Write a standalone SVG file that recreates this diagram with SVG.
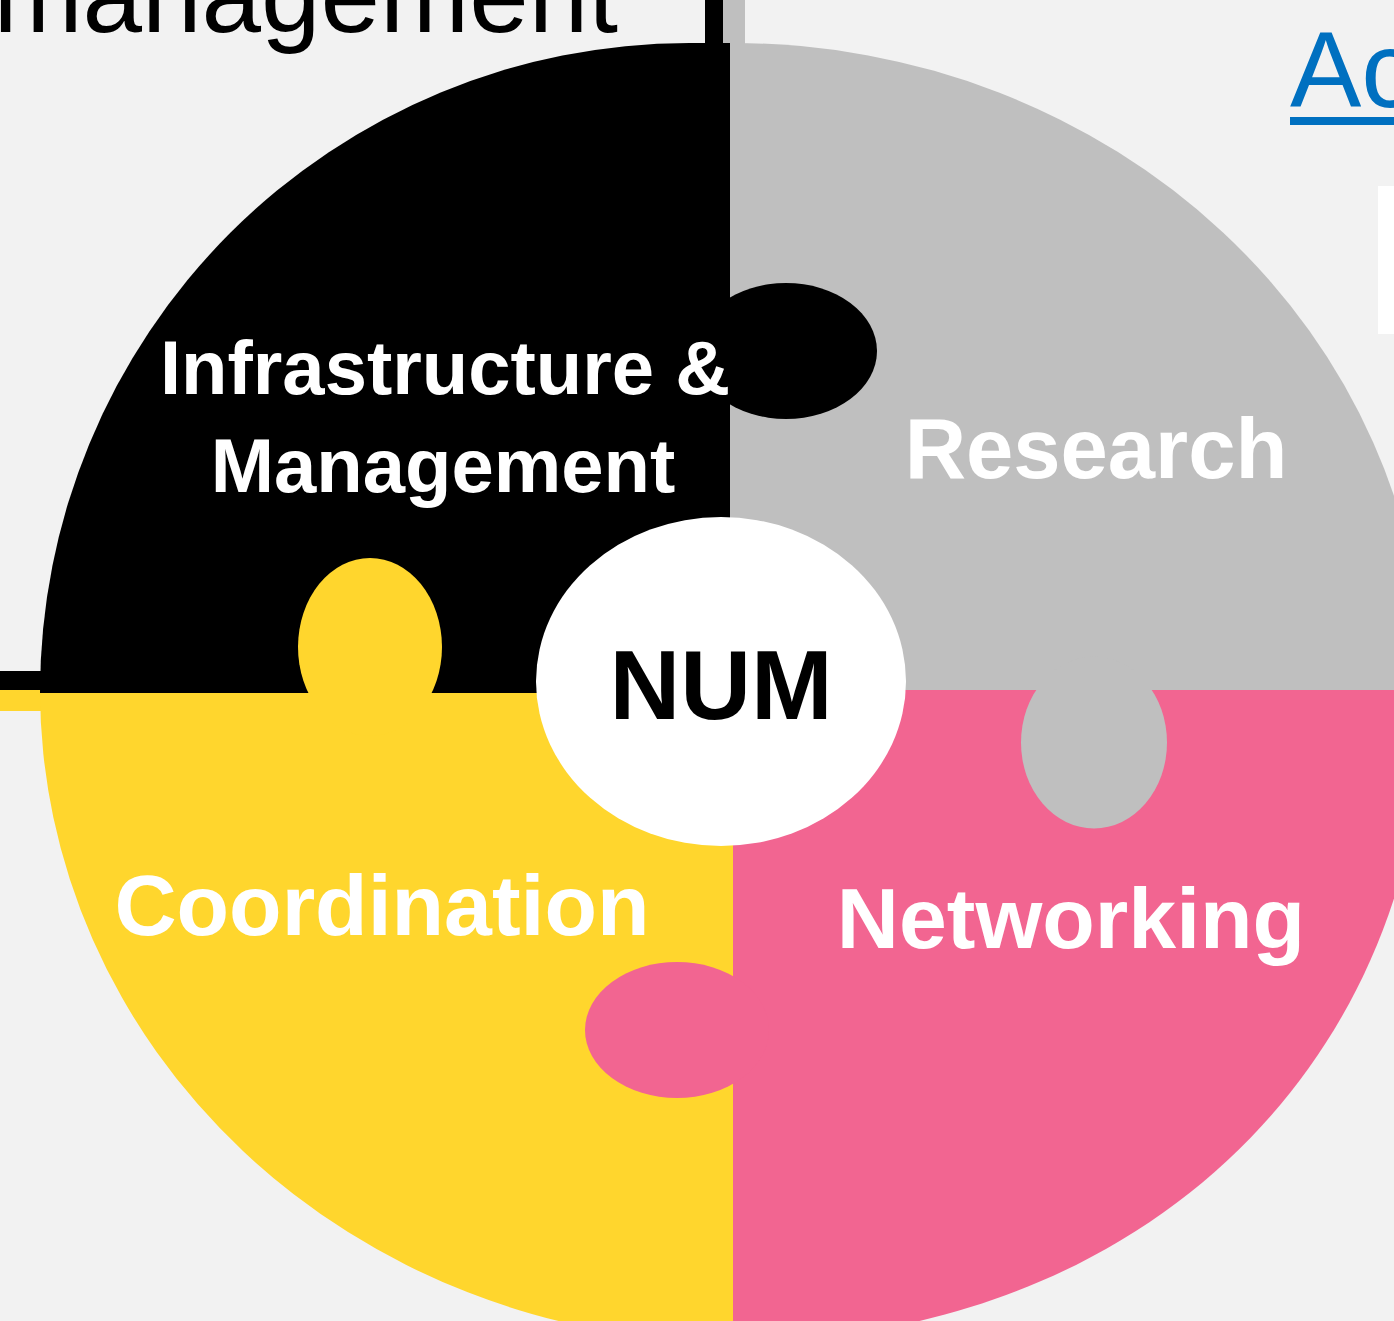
<svg xmlns="http://www.w3.org/2000/svg" width="1394" height="1321" viewBox="0 0 1394 1321">
  <style>
    .lbl { font-family: "Liberation Sans", Arial, sans-serif; font-weight: bold; fill: #FFFFFF; text-anchor: middle; }
    .bk { fill: #000000; }
    .gy { fill: #BFBFBF; }
    .yl { fill: #FFD62D; }
    .pk { fill: #F26591; }
  </style>
  <rect x="0" y="0" width="1394" height="1321" fill="#F2F2F2"/>

  <text x="618" y="32" font-family="Liberation Sans, Arial, sans-serif" font-size="107" text-anchor="end" fill="#000000">management</text>

  <g id="link-ac">
    <text x="1290" y="107" font-family="Liberation Sans, Arial, sans-serif" font-size="107" fill="#0070C0">Ac</text>
    <rect x="1290" y="117" width="104" height="8" fill="#0070C0"/>
  </g>
  <rect id="side-box" x="1378" y="186" width="16" height="148" fill="#FFFFFF"/>

  <g id="connectors">
    <rect class="bk" x="705" y="0" width="18" height="44"/>
    <rect class="gy" x="723" y="0" width="22" height="44"/>
    <rect class="bk" x="0" y="671" width="42" height="19"/>
    <rect class="yl" x="0" y="690" width="42" height="21"/>
  </g>

  <g id="research">
    <path class="gy" d="M730,690 L1426,690 A693 647 0 0 0 733,43 L730,43 Z"/>
  </g>
  <g id="networking">
    <path class="pk" d="M733,690 L1426,690 C1426,1068 1135,1342 733,1342 Z"/>
  </g>
  <g id="coordination">
    <path class="yl" d="M40,693 L733,693 L733,1342 A693 652 0 0 1 40,690 Z"/>
  </g>
  <g id="infrastructure">
    <path class="bk" d="M40,693 L730,693 L730,43 L689,43 A649 649 0 0 0 40,692 Z"/>
    <ellipse class="bk" cx="786" cy="351" rx="91" ry="68"/>
  </g>
  <ellipse class="yl" cx="370" cy="647" rx="72" ry="89"/>
  <ellipse class="gy" cx="1094" cy="742.5" rx="73" ry="86"/>
  <ellipse class="pk" cx="677" cy="1030" rx="92" ry="68"/>

  <g id="labels">
    <text class="lbl" x="445" y="394" font-size="76">Infrastructure &amp;</text>
    <text class="lbl" x="443" y="492" font-size="76">Management</text>
    <text class="lbl" x="1096" y="478" font-size="85">Research</text>
    <text class="lbl" x="382" y="935" font-size="86">Coordination</text>
    <text class="lbl" x="1071" y="948" font-size="86">Networking</text>
  </g>

  <g id="num">
    <ellipse cx="721" cy="681.5" rx="185" ry="164.5" fill="#FFFFFF"/>
    <text x="721" y="719" font-family="Liberation Sans, Arial, sans-serif" font-weight="bold" font-size="98" text-anchor="middle" fill="#000000">NUM</text>
  </g>
</svg>
